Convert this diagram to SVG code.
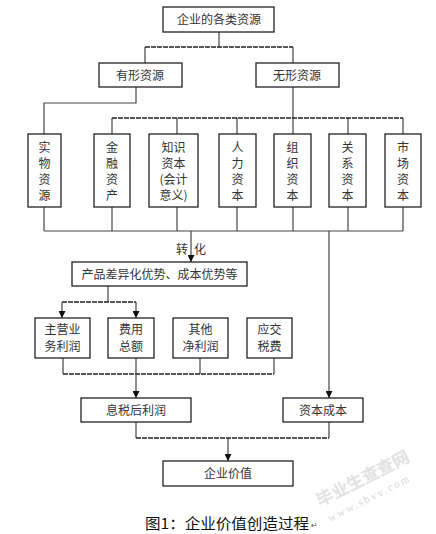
<svg xmlns="http://www.w3.org/2000/svg" width="436" height="534" viewBox="0 0 436 534">
<defs>
<style>
.box{fill:#fff;stroke:#222;stroke-width:1.3}
.t{font-family:"Noto Sans CJK SC","Noto Sans",sans-serif;font-size:12px;fill:#333;text-anchor:middle}
.ln{fill:none;stroke:#444;stroke-width:1.2}
.dl{fill:none;stroke:#222;stroke-width:1.6;stroke-dasharray:5 1}
.cap{font-family:"Noto Sans CJK SC","Noto Sans",sans-serif;font-size:15px;fill:#111}
.wm{font-family:"Noto Sans CJK SC",sans-serif;font-weight:bold;fill:#e2e2e2}
</style>
<marker id="ar" viewBox="0 0 8 8" refX="8" refY="4" markerWidth="7" markerHeight="7" markerUnits="userSpaceOnUse" orient="auto"><path d="M0,0L8,4L0,8z" fill="#111"/></marker>
</defs>
<rect width="436" height="534" fill="#fff"/>
<g id="watermark">
<text class="wm" font-size="17" transform="translate(320,507) rotate(-27)">毕业生查查网</text>
<text class="wm" font-size="11" style="font-weight:normal;fill:#d8d8d8;font-family:'Liberation Serif',serif" transform="translate(330,522) rotate(-27)" letter-spacing="2">www.sbvv.com</text>
</g>
<g id="connectors">
<path class="ln" d="M219,32V47M145,47V63M293,47V63"/>
<path class="dl" d="M145,47H293"/>
<path class="ln" d="M136,87V103H44V134M293,87V134M112,118V134M177,118V134M237,118V134M348,118V134M403,118V134"/>
<path class="dl" d="M112,118H403"/>
<path class="ln" d="M44,207V231M112,207V231M177,207V231M237,207V231M293,207V231M348,207V231M403,207V231M44,231H403"/>
<path class="ln" d="M191,231V262" marker-end="url(#ar)"/>
<path class="ln" d="M329,231V398" marker-end="url(#ar)"/>
<path class="ln" d="M108,286V302"/>
<path class="dl" d="M62,302H136"/>
<path class="ln" d="M62,302V318" marker-end="url(#ar)"/>
<path class="ln" d="M136,302V318" marker-end="url(#ar)"/>
<path class="ln" d="M63,358V374M200,358V374M274,358V374"/>
<path class="dl" d="M63,374H274"/>
<path class="ln" d="M136,358V398" marker-end="url(#ar)"/>
<path class="ln" d="M136,422V438M329,422V438"/>
<path class="dl" d="M136,438H329"/>
<path class="ln" d="M228,438V461" marker-end="url(#ar)"/>
<text class="t" x="182" y="254" font-size="11">转</text>
<text class="t" x="200" y="254" font-size="11">化</text>
</g>
<g id="n-root"><rect class="box" x="163" y="7" width="111" height="25"/><text class="t" x="219" y="24">企业的各类资源</text></g>
<g id="n-tangible"><rect class="box" x="99" y="63" width="83" height="24"/><text class="t" x="140" y="80">有形资源</text></g>
<g id="n-intangible"><rect class="box" x="256" y="63" width="83" height="24"/><text class="t" x="297" y="80">无形资源</text></g>
<g id="n-physical"><rect class="box" x="28" y="134" width="33" height="73"/><text class="t" x="44.5" y="152">实</text><text class="t" x="44.5" y="168">物</text><text class="t" x="44.5" y="184">资</text><text class="t" x="44.5" y="200">源</text></g>
<g id="n-financial"><rect class="box" x="94" y="134" width="36" height="73"/><text class="t" x="112" y="152">金</text><text class="t" x="112" y="168">融</text><text class="t" x="112" y="184">资</text><text class="t" x="112" y="200">产</text></g>
<g id="n-knowledge"><rect class="box" x="149" y="134" width="49" height="73"/><text class="t" x="173.5" y="152">知识</text><text class="t" x="173.5" y="168">资本</text><text class="t" x="173.5" y="184">(会计</text><text class="t" x="173.5" y="200">意义)</text></g>
<g id="n-human"><rect class="box" x="219" y="134" width="37" height="73"/><text class="t" x="237.5" y="152">人</text><text class="t" x="237.5" y="168">力</text><text class="t" x="237.5" y="184">资</text><text class="t" x="237.5" y="200">本</text></g>
<g id="n-org"><rect class="box" x="274" y="134" width="37" height="73"/><text class="t" x="292.5" y="152">组</text><text class="t" x="292.5" y="168">织</text><text class="t" x="292.5" y="184">资</text><text class="t" x="292.5" y="200">本</text></g>
<g id="n-relation"><rect class="box" x="329" y="134" width="37" height="73"/><text class="t" x="347.5" y="152">关</text><text class="t" x="347.5" y="168">系</text><text class="t" x="347.5" y="184">资</text><text class="t" x="347.5" y="200">本</text></g>
<g id="n-market"><rect class="box" x="385" y="134" width="36" height="73"/><text class="t" x="403" y="152">市</text><text class="t" x="403" y="168">场</text><text class="t" x="403" y="184">资</text><text class="t" x="403" y="200">本</text></g>
<g id="n-advantage"><rect class="box" x="72" y="262" width="175" height="24"/><text class="t" x="159.5" y="279">产品差异化优势、成本优势等</text></g>
<g id="n-main"><rect class="box" x="35" y="318" width="55" height="40"/><text class="t" x="62.5" y="334">主营业</text><text class="t" x="62.5" y="351">务利润</text></g>
<g id="n-expense"><rect class="box" x="108" y="318" width="46" height="40"/><text class="t" x="131" y="334">费用</text><text class="t" x="131" y="351">总额</text></g>
<g id="n-other"><rect class="box" x="173" y="318" width="55" height="40"/><text class="t" x="200.5" y="334">其他</text><text class="t" x="200.5" y="351">净利润</text></g>
<g id="n-tax"><rect class="box" x="247" y="318" width="45" height="40"/><text class="t" x="269.5" y="334">应交</text><text class="t" x="269.5" y="351">税费</text></g>
<g id="n-nopat"><rect class="box" x="81" y="398" width="110" height="24"/><text class="t" x="136" y="415">息税后利润</text></g>
<g id="n-capcost"><rect class="box" x="283" y="398" width="80" height="24"/><text class="t" x="323" y="415">资本成本</text></g>
<g id="n-value"><rect class="box" x="163" y="461" width="130" height="25"/><text class="t" x="228" y="478">企业价值</text></g>
<g id="caption"><text class="cap" x="145" y="529" textLength="164" lengthAdjust="spacingAndGlyphs">图1：企业价值创造过程</text><text x="311" y="528" font-family="'DejaVu Sans',sans-serif" font-size="8" fill="#555">↵</text></g>
</svg>
